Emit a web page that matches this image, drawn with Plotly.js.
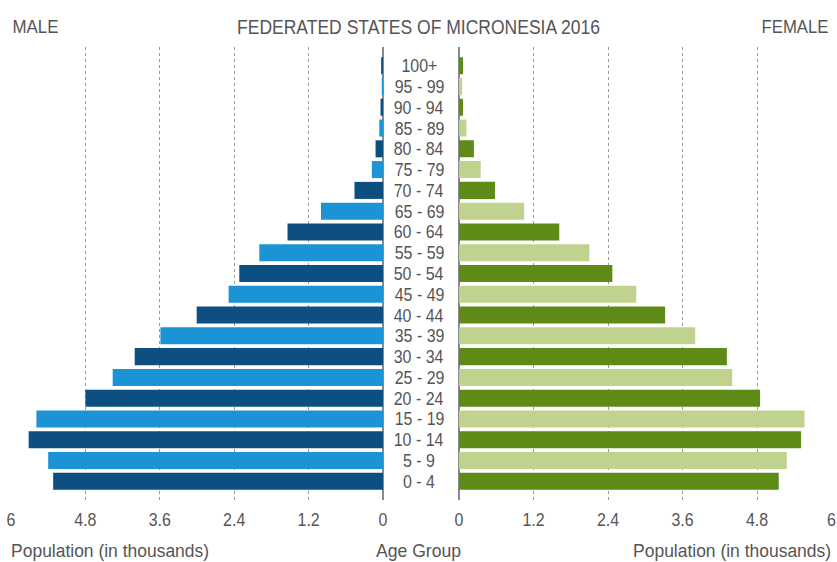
<!DOCTYPE html>
<html>
<head>
<meta charset="utf-8">
<script src="https://cdn.plot.ly/plotly-3.0.1.min.js"></script>
<style>html,body{margin:0;padding:0;background:#fff;}#chart{width:837px;height:562px;}</style>
</head>
<body>
<div id="chart"></div>
<script>
var ageGroups = ["0 - 4","5 - 9","10 - 14","15 - 19","20 - 24","25 - 29","30 - 34","35 - 39","40 - 44","45 - 49","50 - 54","55 - 59","60 - 64","65 - 69","70 - 74","75 - 79","80 - 84","85 - 89","90 - 94","95 - 99","100+"];
var male   = [5.32, 5.40, 5.715, 5.59, 4.80, 4.36, 4.005, 3.59, 3.005, 2.49, 2.318, 1.995, 1.54, 1.00, 0.46, 0.18, 0.12, 0.06, 0.04, 0.02, 0.03];
var female = [5.15, 5.28, 5.51, 5.565, 4.85, 4.40, 4.315, 3.805, 3.32, 2.855, 2.47, 2.10, 1.615, 1.05, 0.58, 0.35, 0.24, 0.12, 0.065, 0.05, 0.065];
var tickVals = [0, 1.2, 2.4, 3.6, 4.8, 6];
var tickText = ["0", "1.2", "2.4", "3.6", "4.8", "6"];
var chartTitle = "FEDERATED STATES OF MICRONESIA 2016";
var sideLabels = ["MALE", "FEMALE"];
var axisTitles = ["Population (in thousands)", "Age Group"];

var FONT = "'Liberation Sans', Arial, sans-serif";
var TXT = "#555555";
var maleColors = ageGroups.map(function(_, i){ return i % 2 === 0 ? "#0d4f80" : "#1b93d5"; });
var femaleColors = ageGroups.map(function(_, i){ return i % 2 === 0 ? "#5e8a17" : "#bfd38f"; });

var traces = [
  {type: "bar", orientation: "h", x: male, y: ageGroups, xaxis: "x", yaxis: "y",
   marker: {color: maleColors}, name: "Male", hoverinfo: "x+y"},
  {type: "bar", orientation: "h", x: female, y: ageGroups, xaxis: "x2", yaxis: "y",
   marker: {color: femaleColors}, name: "Female", hoverinfo: "x+y"}
];

var axisCommon = {
  tickvals: tickVals, ticktext: tickText, showgrid: true, gridcolor: "#9a9a9a",
  griddash: "dot", gridwidth: 1, zeroline: true, zerolinecolor: "#8a8a8a", zerolinewidth: 1.5,
  showline: false, ticks: "", ticklabelstandoff: 6,
  tickfont: {family: FONT, size: 19, color: TXT}, fixedrange: true
};

var annotations = ageGroups.map(function(a){
  return {text: a, x: 0.5006, xref: "paper", y: a, yref: "y", showarrow: false,
          xanchor: "center", yanchor: "middle", font: {family: FONT, size: 19, color: TXT}};
});
function py(p){ return (500 - p) / 453; }
function px(v){ return v / 837; }
annotations.push({text: sideLabels[0], x: px(35), xref: "paper", xanchor: "center", y: py(27), yref: "paper", yanchor: "middle", showarrow: false, font: {family: FONT, size: 18, color: TXT}});
annotations.push({text: sideLabels[1], x: px(795), xref: "paper", xanchor: "center", y: py(27), yref: "paper", yanchor: "middle", showarrow: false, font: {family: FONT, size: 18, color: TXT}});
annotations.push({text: axisTitles[0], x: px(110), xref: "paper", xanchor: "center", y: py(551), yref: "paper", yanchor: "middle", showarrow: false, font: {family: FONT, size: 18, color: TXT}});
annotations.push({text: axisTitles[0], x: px(731.5), xref: "paper", xanchor: "center", y: py(551), yref: "paper", yanchor: "middle", showarrow: false, font: {family: FONT, size: 18, color: TXT}});
annotations.push({text: axisTitles[1], x: px(418.5), xref: "paper", xanchor: "center", y: py(551), yref: "paper", yanchor: "middle", showarrow: false, font: {family: FONT, size: 18, color: TXT}});

var layout = {
  width: 837, height: 562,
  margin: {l: 0, r: 0, t: 47, b: 62},
  paper_bgcolor: "#ffffff", plot_bgcolor: "#ffffff",
  showlegend: false, bargap: 0.18,
  title: {text: chartTitle, x: px(418.5), xanchor: "center", y: 1 - 27/562, yref: "container", yanchor: "middle",
          font: {family: FONT, size: 20, color: TXT}},
  xaxis: Object.assign({}, axisCommon, {domain: [11/837, 383/837], range: [6, 0], anchor: "y"}),
  xaxis2: Object.assign({}, axisCommon, {domain: [459/837, 831.5/837], range: [0, 6], anchor: "y"}),
  yaxis: {type: "category", range: [-0.9, 20.9], showticklabels: false, showgrid: false, zeroline: false, showline: false, ticks: "", fixedrange: true},
  annotations: annotations
};

// widths (px) of the condensed texts in the original
var targetWidth = {};
targetWidth[chartTitle] = 363;
targetWidth[sideLabels[0]] = 46;
targetWidth[sideLabels[1]] = 67;
targetWidth[axisTitles[0]] = 198;
targetWidth[axisTitles[1]] = 85;

Plotly.newPlot("chart", traces, layout, {displayModeBar: false, staticPlot: true}).then(function(gd){
  // The original uses a condensed typeface; condense the glyphs of each text to match.
  var texts = gd.querySelectorAll("svg text");
  texts.forEach(function(t){
    var w = t.getComputedTextLength();
    if (!(w > 0)) return;
    var s = t.textContent;
    var L = (s in targetWidth) ? targetWidth[s] : w * 0.84;
    t.setAttribute("textLength", L.toFixed(2));
    t.setAttribute("lengthAdjust", "spacingAndGlyphs");
  });
});
</script>
</body>
</html>
